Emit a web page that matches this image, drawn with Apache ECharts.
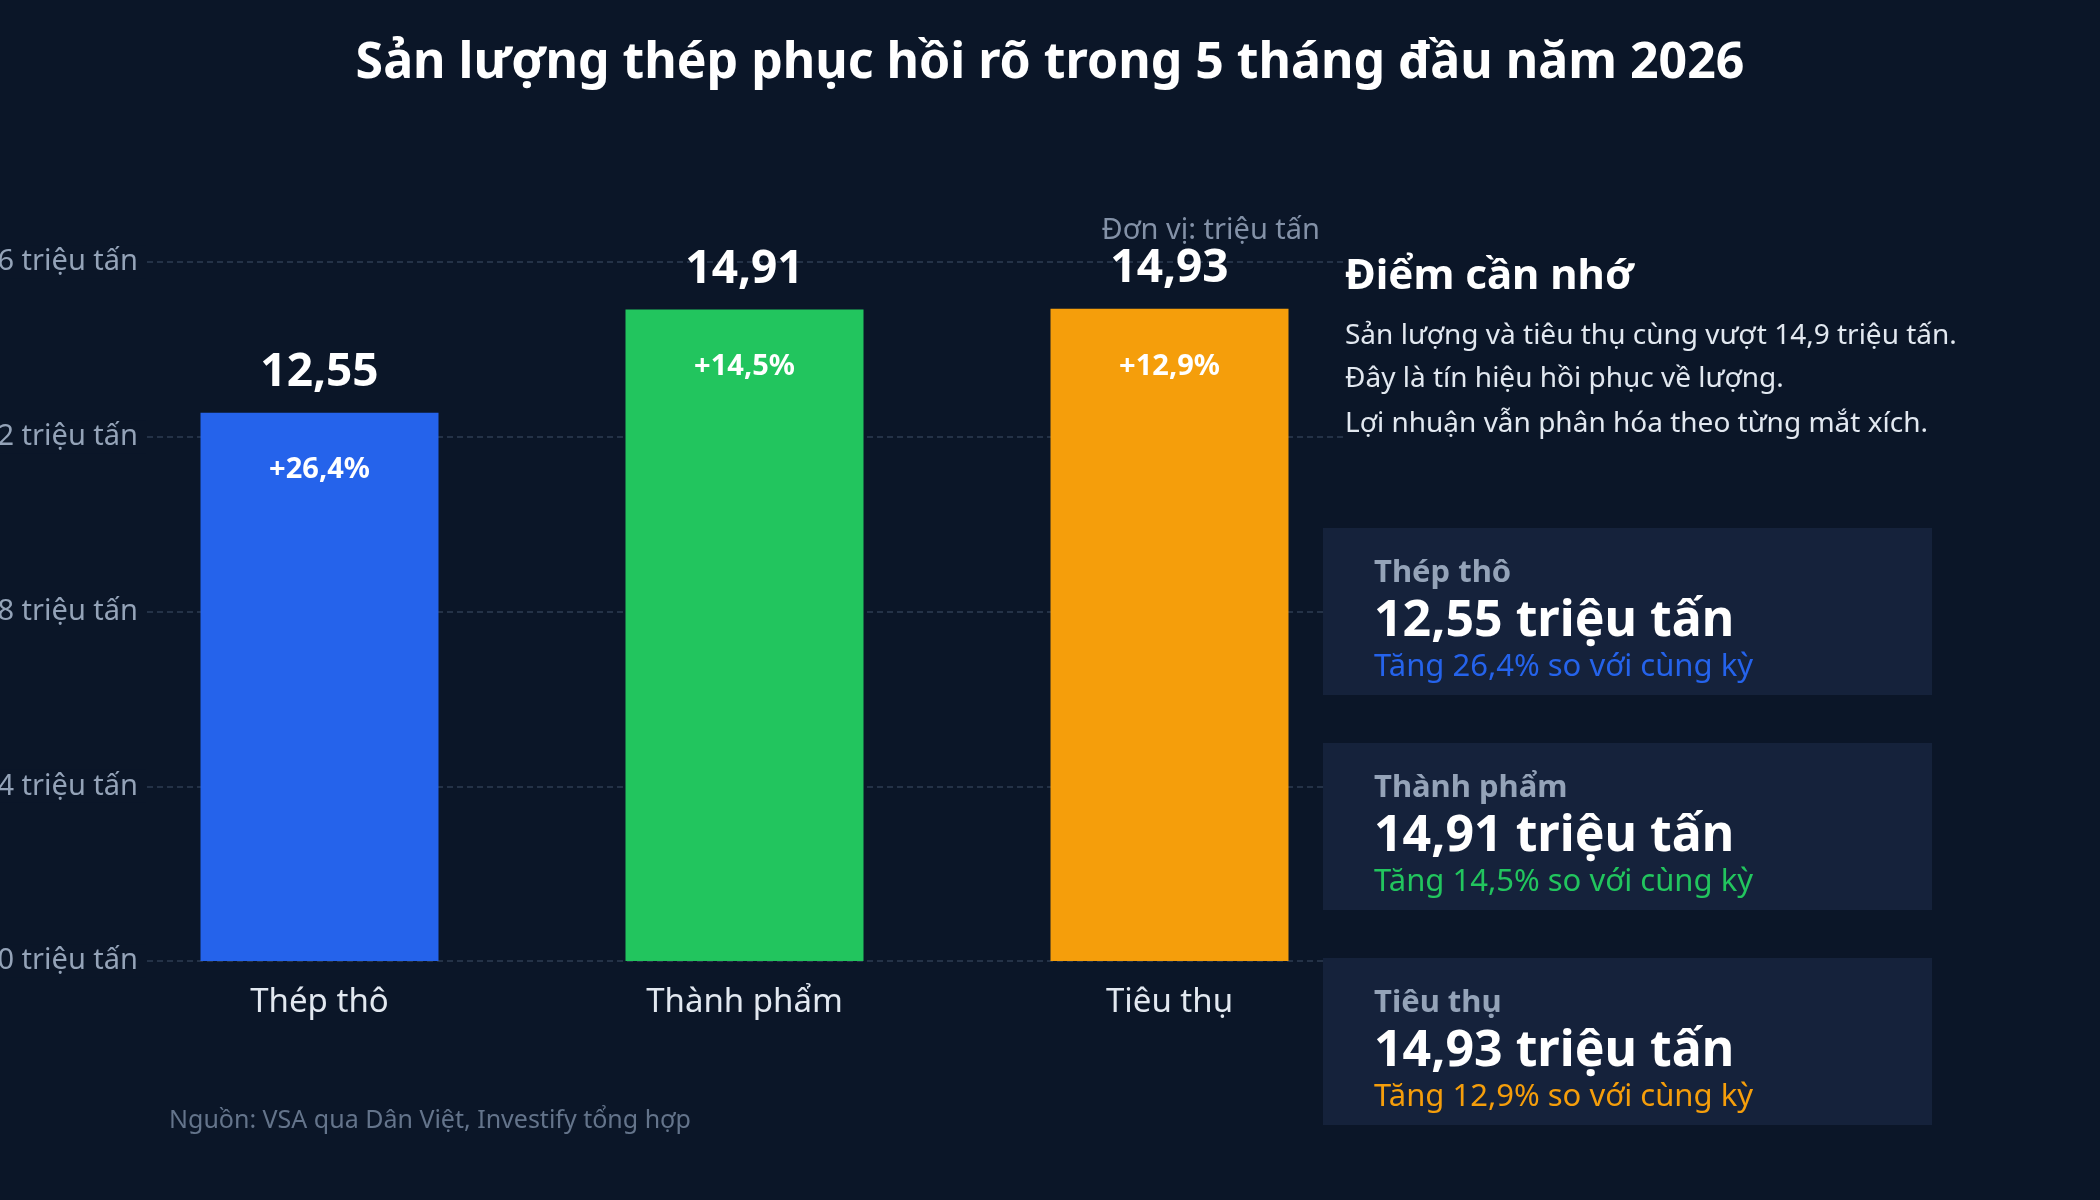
<!DOCTYPE html>
<html>
<head>
<meta charset="utf-8">
<script src="https://cdn.jsdelivr.net/npm/echarts@6/dist/echarts.min.js"></script>
<style>
  html, body { margin: 0; padding: 0; background: #0b1628; }
  #chart { width: 2100px; height: 1200px; }
</style>
</head>
<body>
<div id="chart"></div>
<script>
// data
const categories = ['Thép thô', 'Thành phẩm', 'Tiêu thụ']
const output = [12.55, 14.91, 14.93]       // triệu tấn
const growth = [26.4, 14.5, 12.9]          // % so với cùng kỳ
const colors = ['#2563eb', '#22c55e', '#f59e0b']
const notes = [
    'Sản lượng và tiêu thụ cùng vượt 14,9 triệu tấn.',
    'Đây là tín hiệu hồi phục về lượng.',
    'Lợi nhuận vẫn phân hóa theo từng mắt xích.'
]

const BG = '#0b1628'
const FONT = 'Noto Sans'

function vn(n, d) {
    return n.toFixed(d).replace('.', ',')
}

function txt(x, y, text, font, fill, align) {
    return {
        type: 'text', x, y, z: 10,
        style: { text, font, fill, textAlign: align || 'left', textVerticalAlign: 'middle' }
    }
}

const chart = echarts.init(document.getElementById('chart'))

// right side panel: key points + one card per category
const panel = [
    // covers the split lines beyond the plot area
    { type: 'rect', x: 1344, y: 240, z: 5, shape: { width: 756, height: 740 }, style: { fill: BG } },
    txt(1345, 277, 'Điểm cần nhớ', 'bold 42px "Noto Sans"', '#ffffff')
]
const noteY = [336, 379, 424]
notes.forEach((t, i) => {
    panel.push(txt(1345, noteY[i], t, '28px "Noto Sans"', '#e2e8f0'))
})
const cardTop = [528, 743, 958]
categories.forEach((c, i) => {
    const y = cardTop[i]
    panel.push({ type: 'rect', x: 1323, y, z: 6, shape: { width: 609, height: 167 }, style: { fill: '#15223b' } })
    panel.push(txt(1374, y + 45, c, 'bold 31px "Noto Sans"', '#94a3b8'))
    panel.push(txt(1374, y + 94, vn(output[i], 2) + ' triệu tấn', 'bold 50px "Noto Sans"', '#ffffff'))
    panel.push(txt(1374, y + 139, 'Tăng ' + vn(growth[i], 1) + '% so với cùng kỳ', '31px "Noto Sans"', colors[i]))
})

const option = {
    backgroundColor: BG,
    textStyle: { fontFamily: FONT },
    title: {
        text: 'Sản lượng thép phục hồi rõ trong 5 tháng đầu năm 2026',
        left: 'center',
        top: 34,
        textStyle: { color: '#ffffff', fontSize: 50, fontWeight: 'bold', fontFamily: FONT }
    },
    grid: { left: 107, right: 718, top: 262, bottom: 239, outerBoundsMode: 'none' },
    xAxis: {
        type: 'category',
        data: categories,
        axisLine: { show: false },
        axisTick: { show: false },
        axisLabel: { color: '#e2e8f0', fontSize: 33, margin: 25, fontFamily: FONT }
    },
    yAxis: {
        type: 'value',
        min: 0,
        max: 16,
        interval: 4,
        offset: -39,
        axisLine: { show: false },
        axisTick: { show: false },
        axisLabel: {
            formatter: '{value} triệu tấn',
            color: '#94a3b8',
            fontSize: 29,
            fontFamily: FONT,
            margin: 0,
            padding: [2, 8, 2, 0],
            backgroundColor: BG
        },
        splitLine: { lineStyle: { color: '#2e3c52', width: 1.5, type: [6, 4] } }
    },
    series: [
        {
            type: 'bar',
            barWidth: 238,
            data: output.map((v, i) => ({ value: v, itemStyle: { color: colors[i] } })),
            label: {
                show: true,
                position: 'top',
                distance: 17,
                color: '#ffffff',
                fontSize: 46,
                fontWeight: 'bold',
                fontFamily: FONT,
                formatter: p => vn(p.value, 2)
            }
        },
        {
            // growth labels inside the bars
            type: 'bar',
            barWidth: 238,
            barGap: '-100%',
            data: output,
            itemStyle: { color: 'rgba(0,0,0,0)' },
            label: {
                show: true,
                position: 'insideTop',
                distance: 43,
                color: '#ffffff',
                fontSize: 29,
                fontWeight: 'bold',
                fontFamily: FONT,
                formatter: p => '+' + vn(growth[p.dataIndex], 1) + '%'
            }
        }
    ],
    graphic: [
        txt(1320, 231, 'Đơn vị: triệu tấn', '29px "Noto Sans"', '#8391a7', 'right'),
        txt(169, 1121, 'Nguồn: VSA qua Dân Việt, Investify tổng hợp', '25px "Noto Sans"', '#64748b'),
        ...panel
    ]
}

chart.setOption(option)
</script>
</body>
</html>
